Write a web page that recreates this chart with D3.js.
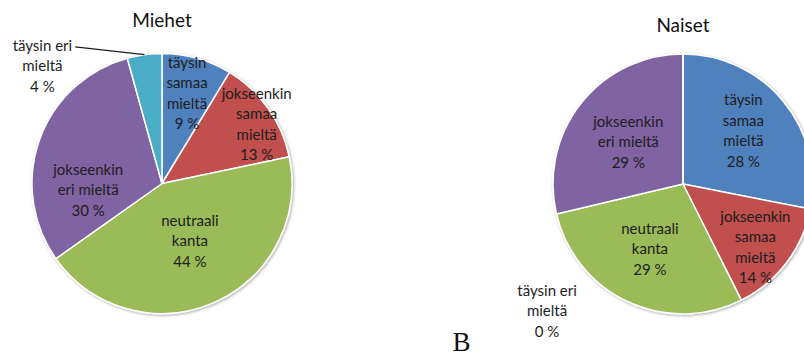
<!DOCTYPE html>
<html>
<head>
<meta charset="utf-8">
<script src="https://cdn.jsdelivr.net/npm/d3@7"></script>
<style>
    body { margin: 0; background: #fff; }
    svg { display: block; }
    .lbl { font-family: Lato, "Open Sans", sans-serif; font-size: 15px; fill: #1e1e1e; }
    .title { font-family: Lato, "Open Sans", sans-serif; font-size: 19px; fill: #111; }
</style>
</head>
<body>
<script>
// Categories and shares (%)
var categories = ["täysin samaa mieltä", "jokseenkin samaa mieltä",
                  "neutraali kanta", "jokseenkin eri mieltä",
                  "täysin eri mieltä"];
var labelLines = [["täysin", "samaa", "mieltä"],
                  ["jokseenkin", "samaa", "mieltä"],
                  ["neutraali", "kanta"],
                  ["jokseenkin", "eri mieltä"],
                  ["täysin eri", "mieltä"]];
var miehetValues = [8.7, 13.0, 43.5, 30.5, 4.3];
var miehetLabels = ["9 %", "13 %", "44 %", "30 %", "4 %"];
var naisetValues = [28.1, 14.5, 28.7, 28.7, 0];
var naisetLabels = ["28 %", "14 %", "29 %", "29 %", "0 %"];

var colors = ["#4f81bd", "#c0504d", "#9bbb59", "#8064a2", "#4bacc6"];

var width = 804, height = 353, radius = 130;

var svg = d3.select("body").append("svg")
    .attr("width", width)
    .attr("height", height);

// soft shadow round the pie edge
var defs = svg.append("defs");
var f = defs.append("filter").attr("id", "shadow")
    .attr("x", "-10%").attr("y", "-10%")
    .attr("width", "120%").attr("height", "120%");
f.append("feGaussianBlur").attr("in", "SourceAlpha").attr("stdDeviation", 1.6);
f.append("feOffset").attr("dx", 0.5).attr("dy", 1.2).attr("result", "b");
f.append("feComponentTransfer").append("feFuncA")
    .attr("type", "linear").attr("slope", 0.35);
var m = f.append("feMerge");
m.append("feMergeNode");
m.append("feMergeNode").attr("in", "SourceGraphic");

var pie = d3.pie().sort(null).value(function(d) { return d; });
var arc = d3.arc().innerRadius(0).outerRadius(radius);

/* label placement: [angle in degrees clockwise from 12 o'clock,
   distance as a fraction of the radius] */
function drawPie(cx, cy, title, titleY, values, pcts, labelPos, leader) {
    var g = svg.append("g")
        .attr("transform", "translate(" + cx + "," + cy + ")");
    var arcs = pie(values);

    g.append("g").attr("filter", "url(#shadow)")
        .selectAll("path")
        .data(arcs)
        .enter()
        .append("path")
        .attr("d", arc)
        .attr("fill", function(d, i) { return colors[i]; })
        .attr("stroke", "#fff")
        .attr("stroke-width", 1.5)
        .attr("stroke-linejoin", "round");

    svg.append("text")
        .attr("class", "title")
        .attr("x", cx)
        .attr("y", titleY)
        .attr("text-anchor", "middle")
        .text(title);

    var lineH = 20.5;
    arcs.forEach(function(d, i) {
        var a = labelPos[i][0] * Math.PI / 180,
            r = labelPos[i][1] * radius;
        var x = r * Math.sin(a), y = -r * Math.cos(a);
        var lines = labelLines[i].concat([pcts[i]]);
        var y0 = y - (lines.length - 1) * lineH / 2;
        var t = g.append("text")
            .attr("class", "lbl")
            .attr("text-anchor", "middle");
        var first = null;
        lines.forEach(function(s, k) {
            var ts = t.append("tspan")
                .attr("x", x)
                .attr("y", y0 + k * lineH)
                .attr("dy", "0.35em")
                .text(s);
            if (k === 0) first = ts;
        });
        if (leader === i) {
            var mid = (d.startAngle + d.endAngle) / 2;
            var w = first.node().getComputedTextLength();
            g.append("line")
                .attr("x1", x + w / 2 + 3)
                .attr("y1", y0 + 1.5)
                .attr("x2", radius * Math.sin(mid))
                .attr("y2", -radius * Math.cos(mid))
                .attr("stroke", "#1e1e1e")
                .attr("stroke-width", 1.2);
        }
    });
}

drawPie(162, 183.5, "Miehet", 27, miehetValues, miehetLabels,
        [[15.5, 0.72], [57.9, 0.86], [154, 0.49], [265, 0.57], [314.5, 1.29]], 4);
drawPie(683, 184, "Naiset", 32, naisetValues, naisetLabels,
        [[48.5, 0.62], [131.2, 0.74], [207, 0.56], [307.4, 0.53], [227, 1.43]], -1);

svg.append("text")
    .attr("x", 461.5)
    .attr("y", 351)
    .attr("text-anchor", "middle")
    .style("font-family", "'Liberation Serif', 'DejaVu Serif', serif")
    .style("font-size", "27px")
    .style("fill", "#111")
    .text("B");
</script>
</body>
</html>
